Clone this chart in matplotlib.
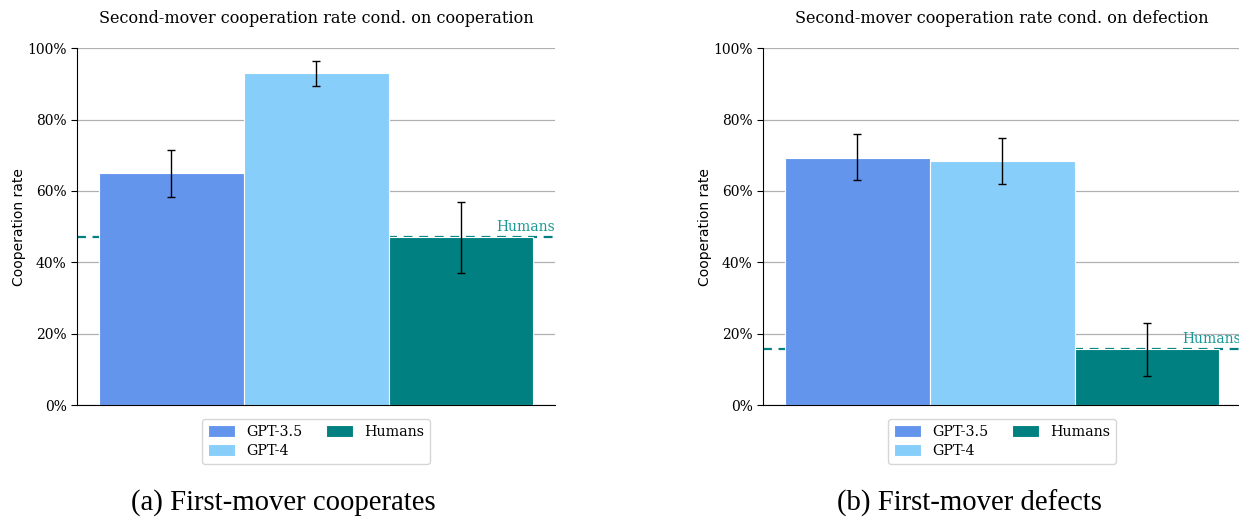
import numpy as np
import matplotlib
matplotlib.use("Agg")
import matplotlib.pyplot as plt
from matplotlib.ticker import PercentFormatter

# data
models = ["GPT-3.5", "GPT-4", "Humans"]
colors = ["#6495ED", "#87CEFA", "#008080"]

coop_rate = [0.65, 0.93, 0.47]
coop_low = [0.583, 0.894, 0.37]
coop_high = [0.715, 0.964, 0.569]

defect_rate = [0.693, 0.684, 0.157]
defect_low = [0.630, 0.620, 0.082]
defect_high = [0.759, 0.749, 0.229]

titles = ["Second-mover cooperation rate cond. on cooperation",
          "Second-mover cooperation rate cond. on defection"]
captions = ["(a) First-mover cooperates", "(b) First-mover defects"]
yticks = [0, 0.2, 0.4, 0.6, 0.8, 1.0]

fig = plt.figure(figsize=(12.39, 5.18), dpi=100)
ax1 = fig.add_axes([0.0621, 0.218, 0.386, 0.689])
ax2 = fig.add_axes([0.6158, 0.218, 0.386, 0.689])

panels = [(ax1, coop_rate, coop_low, coop_high),
          (ax2, defect_rate, defect_low, defect_high)]

x = np.arange(len(models))
for i, (ax, rate, low, high) in enumerate(panels):
    rate = np.array(rate)
    yerr = [rate - np.array(low), np.array(high) - rate]
    ax.set_axisbelow(True)
    ax.yaxis.grid(True, color="#b0b0b0", linewidth=0.9)
    for j in range(len(models)):
        ax.bar(x[j], rate[j], width=1.0, color=colors[j], edgecolor="white",
               linewidth=0.8, label=models[j], zorder=2)
    ax.errorbar(x, rate, yerr=yerr, fmt="none", ecolor="black",
                elinewidth=1.0, capsize=3, capthick=1.0, zorder=4)
    hum = rate[2]
    # reference line sits behind the bars
    ax.axhline(hum, color="#008080", linestyle="--", linewidth=1.6,
               dashes=(4, 3), zorder=1.5)
    ax.text(1.0, hum + 0.008, "Humans", transform=ax.get_yaxis_transform(),
            ha="right", va="bottom", color="#1a9a96", fontsize=10,
            family="DejaVu Serif")
    ax.set_xlim(-0.65, 2.65)
    ax.set_ylim(0, 1.0)
    ax.set_xticks([])
    ax.set_yticks(yticks)
    ax.yaxis.set_major_formatter(PercentFormatter(1.0, decimals=0))
    for lab in ax.get_yticklabels():
        lab.set_family("DejaVu Serif")
        lab.set_fontsize(10)
    ax.set_ylabel("Cooperation rate", fontsize=10, family="DejaVu Sans",
                  labelpad=1)
    ax.set_title(titles[i], fontsize=11.6, family="DejaVu Serif", pad=18)
    ax.spines["top"].set_visible(False)
    ax.spines["right"].set_visible(False)
    ax.tick_params(axis="y", length=4)
    ax.legend(loc="upper center", bbox_to_anchor=(0.5, -0.02), ncol=2,
              prop={"family": "DejaVu Serif", "size": 10.3},
              handlelength=1.9, handleheight=0.9, columnspacing=1.6,
              labelspacing=0.35, fancybox=True)

fig.text(283 / 1239, 1 - 503 / 518, captions[0], ha="center", va="center",
         fontsize=20.7, family="Liberation Serif")
fig.text(969 / 1239, 1 - 503 / 518, captions[1], ha="center", va="center",
         fontsize=20.7, family="Liberation Serif")

fig.savefig("out.png", dpi=100)
